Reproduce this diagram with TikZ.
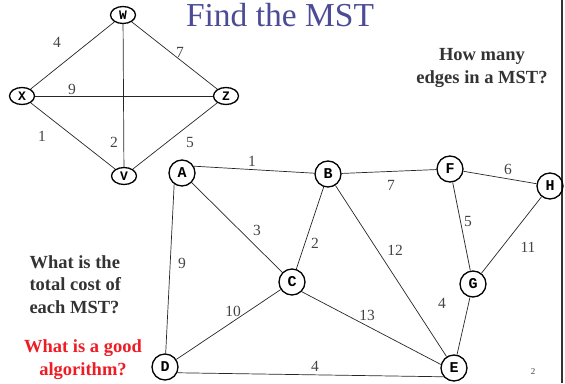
\documentclass[tikz,border=0pt]{standalone}
\usepackage{fontspec}
\setmainfont{Liberation Serif}
\setmonofont{Liberation Mono}
\usepackage{xcolor}
\usetikzlibrary{shapes.geometric}
\definecolor{titleblue}{HTML}{4B4B96}
\definecolor{darktext}{HTML}{333333}
\definecolor{weightgray}{HTML}{444444}
\definecolor{askred}{HTML}{EE1C24}

\begin{document}
\begin{tikzpicture}[x=1pt,y=-1pt,
  vtx/.style={circle,draw,line width=1.3pt,minimum size=26pt,inner sep=0pt,
    font=\ttfamily\bfseries\fontsize{15}{15}\selectfont},
  oval/.style={ellipse,draw,line width=1.3pt,minimum width=25pt,minimum height=17pt,inner sep=0pt,
    font=\ttfamily\bfseries\fontsize{13}{13}\selectfont},
  wt/.style={text=weightgray,inner sep=0pt,font=\fontsize{15.5}{15.5}\selectfont},
  ask/.style={text=darktext,font=\bfseries\fontsize{18.5}{22.5}\selectfont},
  edge/.style={line width=0.7pt,black!85}]
  \useasboundingbox (0,0) rectangle (565,383);
  \draw[line width=2.5pt,darktext] (562,0) -- (562,383);
  \node[text=titleblue,anchor=base,inner sep=0pt,font=\fontsize{33.5}{35}\selectfont] (title) at (280,26) {Find the MST};

  % small graph
  \node[oval] (W) at (123,15) {W};
  \node[oval] (X) at (22,96) {X};
  \node[oval] (Z) at (226,96) {Z};
  \node[oval] (V) at (124,176) {V};
  \draw[edge] (W) -- (X);
  \draw[edge] (W) -- (Z);
  \draw[edge] (X) -- (Z);
  \draw[edge] (X) -- (V);
  \draw[edge] (W) -- (V);
  \draw[edge] (V) -- (Z);
  \node[wt] (wWX) at (57,42) {4};
  \node[wt] (wWZ) at (180,52) {7};
  \node[wt] (wXZ) at (72,89) {9};
  \node[wt] (wXV) at (42,136) {1};
  \node[wt] (wWV) at (114,142) {2};
  \node[wt] (wVZ) at (190,142) {5};

  % large graph
  \node[vtx] (A) at (182,173) {A};
  \node[vtx] (B) at (328,174) {B};
  \node[vtx] (F) at (450,169) {F};
  \node[vtx] (H) at (550,186) {H};
  \node[vtx] (C) at (292,282) {C};
  \node[vtx] (G) at (473,284) {G};
  \node[vtx] (D) at (165,367) {D};
  \node[vtx] (E) at (454,368) {E};
  \draw[edge] (A.30) -- (B);
  \draw[edge] (B) -- (F);
  \draw[edge] (F) -- (H);
  \draw[edge] (A) -- (C);
  \draw[edge] (B) -- (C);
  \draw[edge] (B) -- (E);
  \draw[edge] (F) -- (G);
  \draw[edge] (H) -- (G);
  \draw[edge] (A.-125) -- (D);
  \draw[edge] (D) -- (C);
  \draw[edge] (C.-45) -- (E.165);
  \draw[edge] (G) -- (E);
  \draw[edge] (D.-25) -- (E.220);
  \node[wt] (wAB) at (252,161) {1};
  \node[wt] (wBF) at (391,185) {7};
  \node[wt] (wFH) at (508,169) {6};
  \node[wt] (wAC) at (257,230) {3};
  \node[wt] (wBC) at (315,243) {2};
  \node[wt] (wBE) at (395,250) {12};
  \node[wt] (wFG) at (468,221) {5};
  \node[wt] (wHG) at (528,247) {11};
  \node[wt] (wAD) at (182,263) {9};
  \node[wt] (wDC) at (233,311) {10};
  \node[wt] (wCE) at (367,315) {13};
  \node[wt] (wGE) at (442,303) {4};
  \node[wt] (wDE) at (315,366) {4};

  % questions
  \node[ask,align=center,anchor=base] (qedges) at (482,83) {How many\\edges in a MST?};
  \node[ask,align=left,anchor=base west] (qcost) at (26,313) {What is the\\total cost of\\each MST?};
  \node[ask,text=askred,align=center,anchor=base] (qalgo) at (83,375) {What is a good\\algorithm?};
  \node[text=weightgray,font=\fontsize{9}{9}\selectfont] (page) at (533,372) {2};
\end{tikzpicture}
\end{document}
